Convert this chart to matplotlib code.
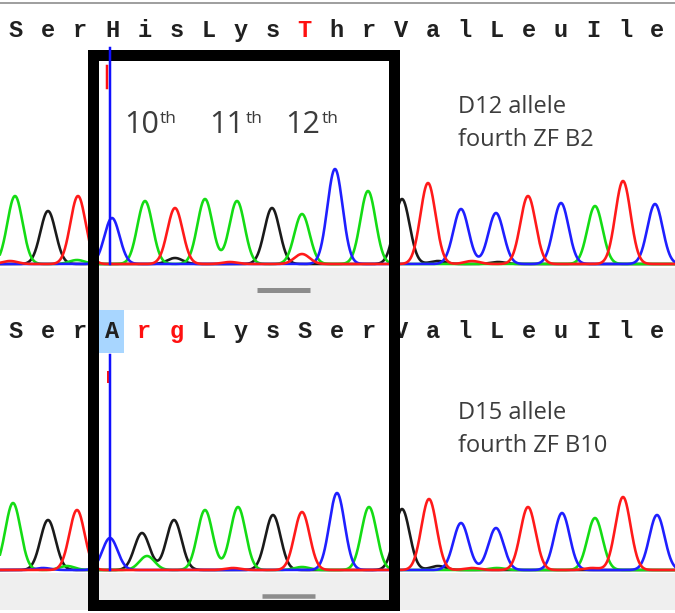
import numpy as np
import matplotlib
matplotlib.use("Agg")
import matplotlib.pyplot as plt
from matplotlib.patches import Rectangle

# ---------------- data ----------------
top_letters = list("SerHisLysThrValLeuIle")
top_letter_colors = ["k"] * 9 + ["r"] + ["k"] * 11
bot_letters = list("SerArgLysSerValLeuIle")
bot_letter_colors = ["k"] * 4 + ["r", "r"] + ["k"] * 15

top_bases = list("AGTCATAAGACAGTCCTCATC")
top_pos = [15, 48, 78, 112, 145, 175, 205, 237, 272, 302, 335, 368, 402, 428, 461, 496, 528, 561, 595, 623, 655]
top_height = [68, 53, 68, 46, 63, 56, 65, 63, 56, 50, 95, 73, 65, 81, 55, 51, 68, 61, 58, 83, 60]
top_minor_bases = list("TAGTTGTG")
top_minor_pos = [10, 77, 175, 302, 230, 438, 472, 498]
top_minor_height = [3, 4, 6, 10, 2, 3, 3, 2]

bot_bases = list("AGTCGGAAGTCAGTCCTCATC")
bot_pos = [13, 48, 77, 110, 142, 174, 205, 238, 273, 302, 337, 369, 402, 429, 461, 496, 528, 562, 595, 623, 657]
bot_height = [67, 50, 60, 32, 37, 50, 60, 63, 55, 58, 77, 63, 61, 71, 47, 42, 63, 57, 52, 73, 55]
bot_minor_bases = list("ACATAGTAT")
bot_minor_pos = [147, 43, 67, 233, 302, 438, 472, 497, 592]
bot_minor_height = [14, 2, 4, 2, 3, 4, 2, 2, 2]

position_labels = ["10", "11", "12"]
allele_labels = ["D12 allele\nfourth ZF B2", "D15 allele\nfourth ZF B10"]

# ---------------- styling ----------------
W, H = 675, 613
base_color = {"A": "#14dc14", "C": "#1f1fff", "G": "#1a1a1a", "T": "#ff1a1a"}
letter_col = {"k": "#202020", "r": "#ff1010"}
sigma = 7.6
letter_x0, letter_dx = 16.0, 32.05

fig = plt.figure(figsize=(W / 100, H / 100), dpi=100)
ax = fig.add_axes([0, 0, 1, 1])
ax.set_xlim(0, W)
ax.set_ylim(H, 0)
ax.axis("off")

px = 0.72  # points per pixel at dpi 100

# top gray rule
ax.plot([0, W], [2.5, 2.5], color="#a0a0a0", lw=2 * px, solid_capstyle="butt")

# gray bands
ax.add_patch(Rectangle((0, 268), W, 42, color="#efefef", lw=0, zorder=0))
ax.add_patch(Rectangle((0, 573), W, 37, color="#efefef", lw=0, zorder=0))
# handles
ax.plot([257, 310], [290, 290], color="#8c8c8c", lw=5 * px, solid_capstyle="butt")
ax.plot([262, 315], [596, 596], color="#8c8c8c", lw=4.5 * px, solid_capstyle="butt")

# highlight box on A
ax.add_patch(Rectangle((94, 310), 30, 43, color="#a8d6ff", lw=0, zorder=1))

# sequence letters
for i, (ch, c) in enumerate(zip(top_letters, top_letter_colors)):
    ax.text(letter_x0 + letter_dx * i, 37, ch, ha="center", va="baseline",
            family="Liberation Mono", weight="bold", fontsize=17, color=letter_col[c], zorder=3)
for i, (ch, c) in enumerate(zip(bot_letters, bot_letter_colors)):
    ax.text(letter_x0 + letter_dx * i, 338, ch, ha="center", va="baseline",
            family="Liberation Mono", weight="bold", fontsize=17, color=letter_col[c], zorder=3)

# traces
xs = np.linspace(0, W, 3000)


def draw_trace(baseline, bases, pos, hts, mbases, mpos, mhts):
    for b in ["G", "A", "C", "T"]:
        y = np.zeros_like(xs)
        for bb, p, h in zip(bases, pos, hts):
            if bb == b:
                y += h * np.exp(-(xs - p) ** 2 / (2 * sigma ** 2))
        for bb, p, h in zip(mbases, mpos, mhts):
            if bb == b:
                y += h * np.exp(-(xs - p) ** 2 / (2 * sigma ** 2))
        ax.plot(xs, baseline - y, color=base_color[b], lw=2.6 * px, zorder=2)


draw_trace(264, top_bases, top_pos, top_height, top_minor_bases, top_minor_pos, top_minor_height)
draw_trace(570, bot_bases, bot_pos, bot_height, bot_minor_bases, bot_minor_pos, bot_minor_height)

# black frame
ax.add_patch(Rectangle((92.5, 55), 394 - 92.5, 604.5 - 55, fill=False, ec="black",
                       lw=11 * px, joinstyle="miter", zorder=5))

# cursor lines
ax.plot([107.3, 107.3], [66, 88], color="#ff1010", lw=2.5 * px, zorder=6)
ax.plot([109.5, 109.5], [48, 264], color="#1010ff", lw=2.5 * px, zorder=6)
ax.plot([108.3, 108.3], [372, 382], color="#ff1010", lw=2 * px, zorder=5.5)
ax.plot([109.5, 109.5], [355, 570], color="#1010ff", lw=2.5 * px, zorder=6)

# position labels
tc = "#3c3c3c"
num_x = [124, 209, 285]
sup_x = [160, 246, 322]
for lab, nx, sx in zip(position_labels, num_x, sup_x):
    ax.text(nx, 133, lab, ha="left", va="baseline", family="Open Sans", fontsize=22, color=tc, zorder=4)
    ax.text(sx, 123, "th", ha="left", va="baseline", family="Open Sans", fontsize=12.5, color=tc, zorder=4)

# allele labels
for lab, yb in zip(allele_labels, [113, 419]):
    l1, l2 = lab.split("\n")
    ax.text(458, yb, l1, ha="left", va="baseline", family="Open Sans", fontsize=17, color=tc)
    ax.text(458, yb + 33, l2, ha="left", va="baseline", family="Open Sans", fontsize=17, color=tc)

fig.savefig("out.png", dpi=100)
